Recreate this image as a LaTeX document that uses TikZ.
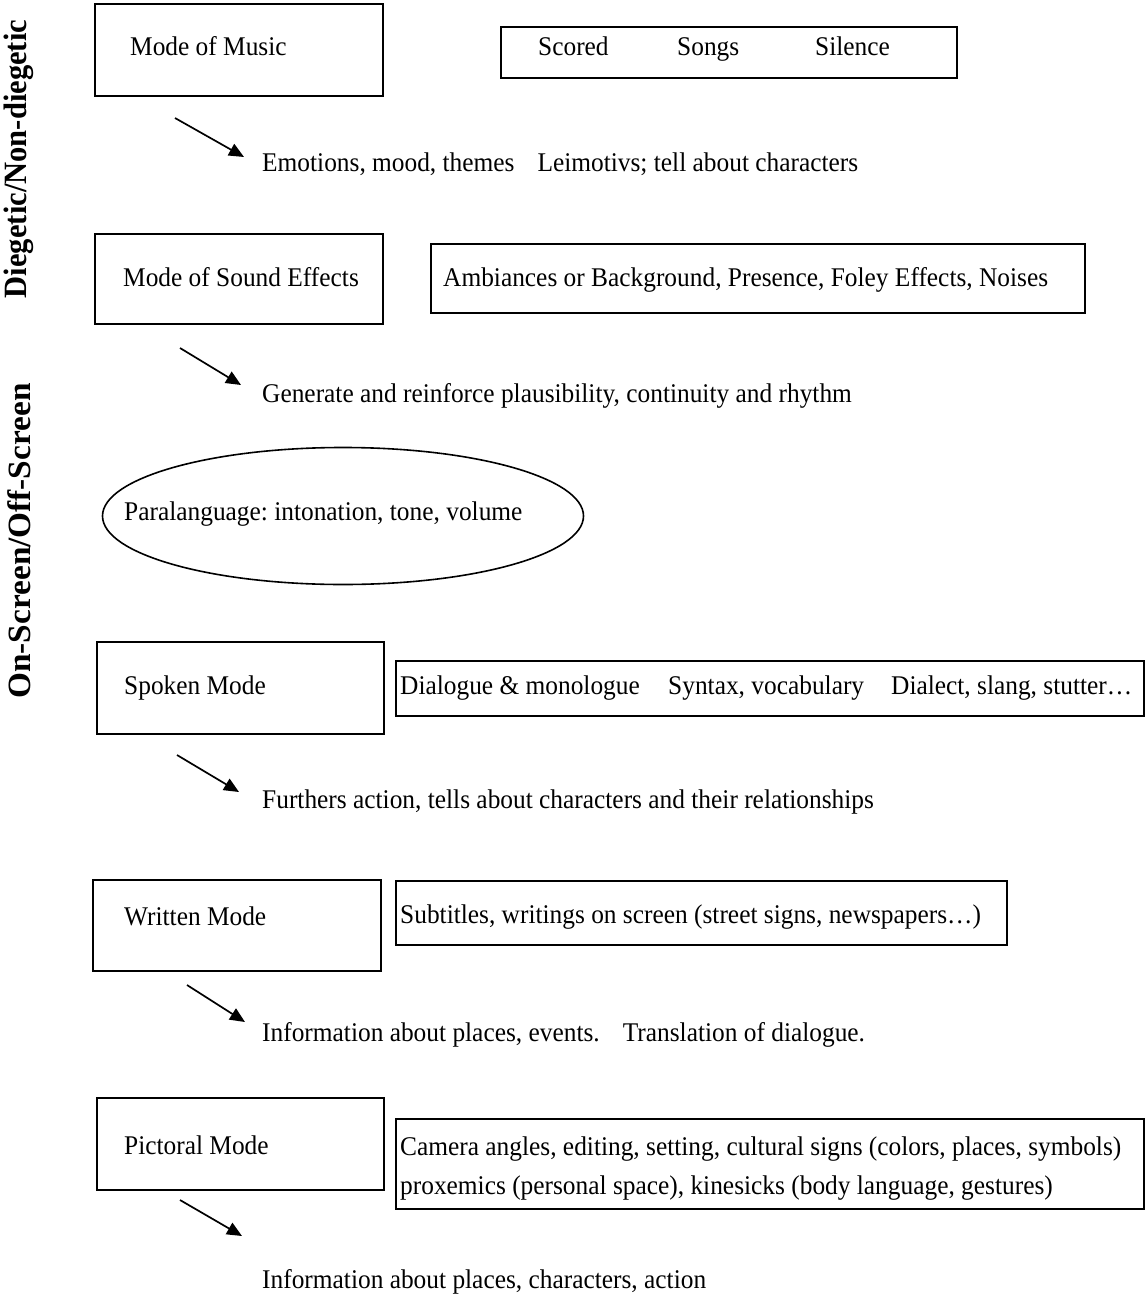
\documentclass[tikz,border=0pt]{standalone}
\usepackage{fontspec}
\setmainfont{Liberation Serif}[FakeStretch=0.94]
\usetikzlibrary{shapes.geometric,arrows.meta}
\begin{document}
\frenchspacing
\begin{tikzpicture}[x=1pt,y=-1pt,
  txt/.style={font=\fontsize{27}{36}\selectfont, inner sep=0pt, anchor=base west},
  side/.style={font=\fontsize{32.5}{36}\selectfont\bfseries, inner sep=0pt, rotate=90},
  box/.style={draw, line width=1.6pt, inner sep=0pt, anchor=north west},
  arr/.style={line width=1.7pt, -{Triangle[length=15pt,width=13pt]}}]
\useasboundingbox[fill=white] (0,0) rectangle (1145,1295);

% side labels
\node[side] (lab1) at (19,159) {Diegetic/Non-diegetic};
\node[side] (lab2) at (19,541) {\scalebox{1.09}[1]{On-Screen/Off-Screen}};

% Music
\node[box, minimum width=288, minimum height=92] (music) at (94,3) {};
\node[txt] (musict) at (130,56) {Mode of Music};
\node[box, minimum width=456, minimum height=51] (musicbox) at (500,26) {};
\node[txt] (scored) at (538,56) {Scored};
\node[txt] (songs) at (677,56) {Songs};
\node[txt] (silence) at (815,56) {Silence};
\coordinate (a1s) at (175,118); \coordinate (a1e) at (244,157);
\draw[arr] (a1s) -- (a1e);
\node[txt] (emo) at (262,171) {Emotions, mood, themes\hspace{0.85em}Leimotivs; tell about characters};

% Sound effects
\node[box, minimum width=288, minimum height=90] (sound) at (94,233) {};
\node[txt] (soundt) at (123,286) {Mode of Sound Effects};
\node[box, minimum width=654, minimum height=69] (soundbox) at (430,243) {};
\node[txt] (amb) at (443,286) {Ambiances or Background, Presence, Foley Effects, Noises};
\coordinate (a2s) at (180,348); \coordinate (a2e) at (241,385);
\draw[arr] (a2s) -- (a2e);
\node[txt] (gen) at (262,402) {Generate and reinforce plausibility, continuity and rhythm};

% Paralanguage
\node[draw, line width=1.6pt, ellipse, minimum width=481, minimum height=137, inner sep=0pt] (para) at (343,516) {};
\node[txt] (parat) at (124,520) {Paralanguage: intonation, tone, volume};

% Spoken
\node[box, minimum width=287, minimum height=92] (spoken) at (96,641) {};
\node[txt] (spokent) at (124,694) {Spoken Mode};
\node[box, minimum width=748, minimum height=55] (spokenbox) at (395,660) {};
\node[txt] (dia) at (400,694) {Dialogue \& monologue\hspace{1.05em}Syntax, vocabulary\hspace{1.0em}Dialect, slang, stutter…};
\coordinate (a3s) at (177,755); \coordinate (a3e) at (239,792);
\draw[arr] (a3s) -- (a3e);
\node[txt] (furt) at (262,808) {Furthers action, tells about characters and their relationships};

% Written
\node[box, minimum width=288, minimum height=91] (written) at (92,879) {};
\node[txt] (writtent) at (124,925) {Written Mode};
\node[box, minimum width=611, minimum height=64] (writtenbox) at (395,880) {};
\node[txt] (sub) at (400,923) {Subtitles, writings on screen (street signs, newspapers…)};
\coordinate (a4s) at (187,985); \coordinate (a4e) at (245,1022);
\draw[arr] (a4s) -- (a4e);
\node[txt] (info1) at (262,1041) {Information about places, events.\hspace{0.85em}Translation of dialogue.};

% Pictoral
\node[box, minimum width=287, minimum height=92] (pict) at (96,1097) {};
\node[txt] (pictt) at (124,1154) {Pictoral Mode};
\node[box, minimum width=748, minimum height=90] (pictbox) at (395,1118) {};
\node[txt] (cam) at (400,1155) {Camera angles, editing, setting, cultural signs (colors, places, symbols)};
\node[txt] (prox) at (400,1194) {proxemics (personal space), kinesicks (body language, gestures)};
\coordinate (a5s) at (180,1200); \coordinate (a5e) at (242,1236);
\draw[arr] (a5s) -- (a5e);
\node[txt] (info2) at (262,1288) {Information about places, characters, action};
\end{tikzpicture}
\end{document}
